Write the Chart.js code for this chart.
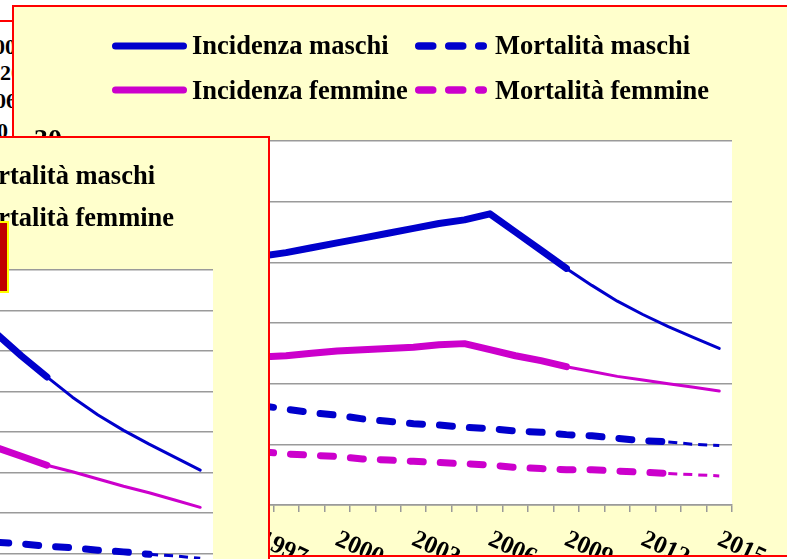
<!DOCTYPE html>
<html lang="it">
<head>
<meta charset="utf-8">
<title>Incidenza e mortalità</title>
<script src="https://cdn.jsdelivr.net/npm/chart.js@4.4.1/dist/chart.umd.min.js"></script>
<style>
  html, body { margin:0; padding:0; width:787px; height:559px; overflow:hidden; background:#ffffff; }
  body { position:relative; font-family:'Liberation Serif','Times New Roman',serif; }
  .abs { position:absolute; }
  .panel { position:absolute; box-sizing:border-box; border:2px solid #ff0000; }
  .txt { position:absolute; font-weight:bold; font-size:26.5px; line-height:26px; color:#000; white-space:nowrap; }
  .btxt { position:absolute; font-weight:bold; font-size:22px; line-height:22px; color:#000; white-space:nowrap; }
</style>
</head>
<body>
<!-- panel behind (top-left) -->
<div class="panel" style="left:-300px; top:20px; width:330px; height:200px; background:#ffffff; z-index:1;"></div>
<div class="btxt" style="left:-6px; top:36px; z-index:1;">00</div>
<div class="btxt" style="left:0px; top:62px; z-index:1;">20</div>
<div class="btxt" style="left:-5px; top:90px; z-index:1;">06</div>
<div class="btxt" style="left:-3px; top:120px; z-index:1;">0</div>

<!-- main panel -->
<div class="panel" style="left:12px; top:5px; width:800px; height:552px; background:#FFFFCC; z-index:2;"></div>
<canvas id="mainChart" class="abs" width="773" height="548" style="left:14px; top:7px; z-index:3;"></canvas>
<div id="mainLegend" class="abs" style="left:0; top:0; width:787px; height:130px; z-index:4;"></div>

<!-- overlapping panel (bottom-left) -->
<div class="panel" style="left:-400px; top:136px; width:670px; height:500px; background:#FFFFCC; z-index:5;"></div>
<canvas id="smallChart" class="abs" width="230" height="326" style="left:-17px; top:268px; z-index:6;"></canvas>
<div id="smallLegend" class="abs" style="left:0; top:0; width:270px; height:240px; z-index:7;"></div>
<div class="abs" style="left:-10px; top:221px; width:19px; height:72px; box-sizing:border-box; background:#C00000; border:2px solid #FFFF00; z-index:8;"></div>

<script>
// ---------------- data ----------------
const years = ['1991','1992','1993','1994','1995','1996','1997','1998','1999','2000','2001','2002','2003',
               '2004','2005','2006','2007','2008','2009','2010','2011','2012','2013','2014','2015'];
// years hidden behind the overlapping panel are left empty (null)
const incidenzaMaschi  = [null,null,null,null,null,null,20.5,20.8,21.2,21.6,22.0,22.4,22.8,23.2,23.5,24.0,22.5,21.0,19.5,18.1,16.8,15.7,14.7,13.8,12.9];
const mortalitaMaschi  = [null,null,null,null,null,null, 8.2, 7.9, 7.6, 7.4, 7.1, 6.9, 6.7, 6.6, 6.4, 6.3, 6.1, 6.0, 5.8, 5.7, 5.5, 5.3, 5.2, 5.0, 4.9];
const incidenzaFemmine = [null,null,null,null,null,null,12.2,12.3,12.5,12.7,12.8,12.9,13.0,13.2,13.3,12.8,12.3,11.9,11.4,11.0,10.6,10.3,10.0, 9.7, 9.4];
const mortalitaFemmine = [null,null,null,null,null,null, 4.4, 4.2, 4.1, 4.0, 3.8, 3.7, 3.6, 3.5, 3.4, 3.3, 3.1, 3.0, 2.9, 2.9, 2.8, 2.7, 2.6, 2.5, 2.4];
const lastObservedIncidenza = '2009';
const lastObservedMortalita = '2013';
const yTickMin = 0, yTickMax = 30, yTickStep = 5;
const xLabelEvery = 3;

// second (overlapping) chart, visible part only
const smallYears = ['2007','2008','2009','2010','2011','2012','2013','2014','2015'];
const smallIncidenzaMaschi  = [32.2,29.4,26.8,24.3,22.1,20.2,18.5,16.9,15.3];
const smallIncidenzaFemmine = [18.1,17.0,15.9,15.1,14.2,13.3,12.5,11.6,10.7];
const smallMortalitaMaschi  = [ 6.4, 6.2, 5.9, 5.7, 5.4, 5.2, 4.9, 4.7, 4.4];
const smallYMin = 0, smallYMax = 40, smallYStep = 5;

const seriesNames = ['Incidenza maschi','Mortalità maschi','Incidenza femmine','Mortalità femmine'];

// ---------------- styles ----------------
const BLUE = '#0000CC', MAGENTA = '#CC00CC', GRID = '#9a9a9a';
const FONT = "'Liberation Serif','Times New Roman',serif";
Chart.defaults.font.family = FONT;

function makeDataset(label, data, labels, color, dashed, lastObserved, thick, thin) {
  const cut = labels.indexOf(lastObserved);
  const isThick = c => c.p1DataIndex <= cut;
  return {
    label, data, borderColor: color, backgroundColor: color, fill: false,
    borderWidth: thin, borderJoinStyle: 'round', borderCapStyle: 'round',
    pointRadius: 0, tension: 0,
    segment: {
      borderWidth: c => isThick(c) ? thick : thin,
      borderDash: c => dashed ? (isThick(c) ? [13, 17] : [9, 6]) : [],
      borderCapStyle: c => (dashed && !isThick(c)) ? 'butt' : 'round'
    }
  };
}

const plotBackground = {
  id: 'plotBackground',
  beforeDraw(chart) {
    const a = chart.chartArea, ctx = chart.ctx;
    ctx.save(); ctx.fillStyle = '#ffffff';
    ctx.fillRect(a.left, a.top, a.right - a.left, a.bottom - a.top);
    ctx.restore();
  }
};

const rotatedYearLabels = {
  id: 'rotatedYearLabels',
  afterDraw(chart) {
    const xs = chart.scales.x, ctx = chart.ctx, labels = chart.data.labels;
    const first = Number(labels[0]);
    ctx.save();
    ctx.font = 'bold 25px ' + FONT;
    ctx.fillStyle = '#000';
    ctx.textAlign = 'left'; ctx.textBaseline = 'top';
    labels.forEach((lab, i) => {
      if ((Number(lab) - first) % xLabelEvery !== 0) return;
      ctx.save();
      ctx.translate(xs.getPixelForValue(i) + 5, xs.bottom + 15);
      ctx.rotate(25 * Math.PI / 180);
      ctx.fillText(lab, 0, 0);
      ctx.restore();
    });
    ctx.restore();
  }
};

// ---------------- main chart ----------------
const mainDatasets = [
  makeDataset(seriesNames[0], incidenzaMaschi,  years, BLUE,    false, lastObservedIncidenza, 7, 3),
  makeDataset(seriesNames[1], mortalitaMaschi,  years, BLUE,    true,  lastObservedMortalita, 7, 3),
  makeDataset(seriesNames[2], incidenzaFemmine, years, MAGENTA, false, lastObservedIncidenza, 7, 3),
  makeDataset(seriesNames[3], mortalitaFemmine, years, MAGENTA, true,  lastObservedMortalita, 7, 3)
];

const mainChart = new Chart(document.getElementById('mainChart'), {
  type: 'line',
  data: { labels: years, datasets: mainDatasets },
  options: {
    responsive: false, animation: false, events: [],
    layout: { padding: { top: 134, right: 55, bottom: 43, left: 0 } },
    plugins: { legend: { display: false }, tooltip: { enabled: false } },
    scales: {
      x: {
        type: 'category', offset: true,
        grid: { offset: true, drawOnChartArea: false, drawTicks: true, tickLength: 7, color: GRID, lineWidth: 1.5 },
        border: { display: true, color: GRID, width: 1.5 },
        ticks: { display: false },
        afterFit: s => { s.height = 7; }
      },
      y: {
        min: yTickMin, max: yTickMax,
        ticks: { stepSize: yTickStep, color: '#000', font: { size: 28, weight: 'bold' }, padding: 26 },
        grid: { color: GRID, lineWidth: 1.5, tickLength: 7, drawTicks: true },
        border: { display: true, color: GRID, width: 1.5 },
        afterFit: s => { s.width = 81; }
      }
    }
  },
  plugins: [plotBackground, rotatedYearLabels]
});

// ---------------- main legend (Excel style, column aligned) ----------------
(function buildLegend() {
  const host = document.getElementById('mainLegend');
  const svgNS = 'http://www.w3.org/2000/svg';
  const svg = document.createElementNS(svgNS, 'svg');
  svg.setAttribute('width', '787'); svg.setAttribute('height', '130');
  svg.style.position = 'absolute'; svg.style.left = '0'; svg.style.top = '0';
  host.appendChild(svg);
  const cols = [{ x1: 112, x2: 187, tx: 192 }, { x1: 415, x2: 487, tx: 495 }];
  const rows = [{ y: 46, textTop: 31.5 }, { y: 90, textTop: 77 }];
  mainChart.data.datasets.forEach((ds, i) => {
    const col = cols[i % 2], row = rows[Math.floor(i / 2)];
    const dashed = ds.label.startsWith('Mortalit');
    const w = dashed ? 7.5 : 7;
    const line = document.createElementNS(svgNS, 'line');
    line.setAttribute('x1', col.x1 + w / 2); line.setAttribute('x2', col.x2 - w / 2);
    line.setAttribute('y1', row.y); line.setAttribute('y2', row.y);
    line.setAttribute('stroke', ds.borderColor); line.setAttribute('stroke-width', w);
    line.setAttribute('stroke-linecap', 'round');
    if (dashed) line.setAttribute('stroke-dasharray', '14 16');
    svg.appendChild(line);
    const t = document.createElement('div');
    t.className = 'txt'; t.textContent = ds.label;
    t.style.left = col.tx + 'px'; t.style.top = row.textTop + 'px';
    host.appendChild(t);
  });
})();

// ---------------- overlapping chart ----------------
const smallChart = new Chart(document.getElementById('smallChart'), {
  type: 'line',
  data: {
    labels: smallYears,
    datasets: [
      makeDataset(seriesNames[0], smallIncidenzaMaschi,  smallYears, BLUE,    false, lastObservedIncidenza, 7, 3),
      makeDataset(seriesNames[1], smallMortalitaMaschi,  smallYears, BLUE,    true,  lastObservedMortalita, 7, 3),
      makeDataset(seriesNames[2], smallIncidenzaFemmine, smallYears, MAGENTA, false, lastObservedIncidenza, 7, 3)
    ]
  },
  options: {
    responsive: false, animation: false, events: [],
    layout: { padding: { top: 2, right: 0, bottom: 0, left: 0 } },
    plugins: { legend: { display: false }, tooltip: { enabled: false } },
    scales: {
      x: { type: 'category', offset: true, display: false },
      y: {
        min: smallYMin, max: smallYMax,
        ticks: { stepSize: smallYStep, display: false },
        grid: { color: GRID, lineWidth: 1.5, drawTicks: false },
        border: { display: false },
        afterFit: s => { s.width = 0; }
      }
    }
  },
  plugins: [plotBackground]
});

(function buildSmallLegend() {
  const host = document.getElementById('smallLegend');
  [[seriesNames[1], 162], [seriesNames[3], 204]].forEach(([name, top]) => {
    const t = document.createElement('div');
    t.className = 'txt'; t.textContent = name;
    t.style.left = '-40px'; t.style.top = top + 'px';
    host.appendChild(t);
  });
})();
</script>
</body>
</html>
